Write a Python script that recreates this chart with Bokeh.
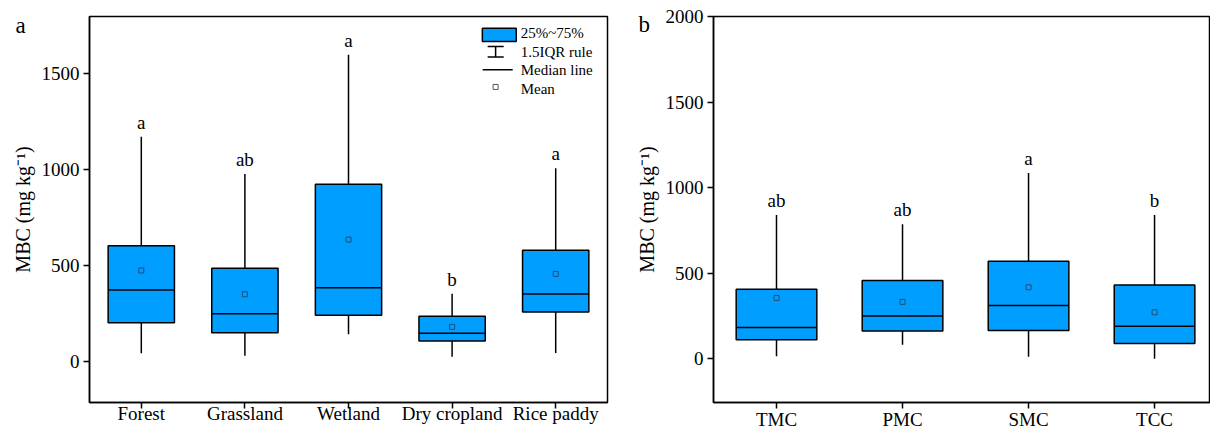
from bokeh.plotting import figure
from bokeh.layouts import row
from bokeh.models import Range1d, FixedTicker
from bokeh.core.properties import value
from bokeh.embed import file_html
from bokeh.resources import INLINE

# ---------------- data ----------------
land_types = ["Forest", "Grassland", "Wetland", "Dry cropland", "Rice paddy"]
a_low = [42, 30, 142, 24, 44]
a_q1 = [201, 150, 241, 106, 258]
a_median = [372, 249, 384, 147, 351]
a_q3 = [602, 486, 923, 235, 579]
a_high = [1171, 977, 1598, 353, 1006]
a_mean = [474, 350, 635, 180, 456]
a_letters = ["a", "ab", "a", "b", "a"]
a_yticks = [0, 500, 1000, 1500]

mc_types = ["TMC", "PMC", "SMC", "TCC"]
b_low = [15, 82, 13, 0]
b_q1 = [111, 163, 165, 89]
b_median = [183, 251, 311, 190]
b_q3 = [406, 457, 570, 432]
b_high = [841, 786, 1086, 841]
b_mean = [356, 333, 418, 272]
b_letters = ["ab", "ab", "a", "b"]
b_yticks = [0, 500, 1000, 1500, 2000]

legend_labels = ["25%~75%", "1.5IQR rule", "Median line", "Mean"]

# ---------------- style ----------------
FONT = "Liberation Serif"
BLUE = "#009FFF"
BW = 0.64
YLABEL = "MBC (mg kg\u207b\u00b9)"


def panel(cats, low, q1, med, q3, high, mean, letters, yticks, yr, xr,
          width, height, mb_left, mb_right, mb_top, mb_bottom, xstandoff,
          tag, tag_offset, tag_standoff):
    xs = list(range(1, len(cats) + 1))
    p = figure(width=width, height=height, output_backend="svg", toolbar_location=None,
               x_range=Range1d(*xr), y_range=Range1d(*yr),
               min_border_left=mb_left, min_border_right=mb_right,
               min_border_top=mb_top, min_border_bottom=mb_bottom,
               title=tag)
    # panel tag as title (titles are not clipped to the frame)
    p.title.text_font = FONT
    p.title.text_font_style = "normal"
    p.title.text_font_size = "23px"
    p.title.text_color = "black"
    p.title.align = "left"
    p.title.offset = tag_offset
    p.title.standoff = tag_standoff

    p.xgrid.visible = False
    p.ygrid.visible = False
    p.outline_line_color = "black"
    p.outline_line_width = 1.5

    p.segment(x0=xs, y0=q3, x1=xs, y1=high, line_color="black", line_width=1.5)
    p.segment(x0=xs, y0=low, x1=xs, y1=q1, line_color="black", line_width=1.5)
    p.vbar(x=xs, width=BW, bottom=q1, top=q3, fill_color=BLUE, line_color="black", line_width=1.5)
    p.segment(x0=[x - BW / 2 for x in xs], y0=med, x1=[x + BW / 2 for x in xs], y1=med,
              line_color="black", line_width=1.5)
    p.scatter(x=xs, y=mean, marker="square", size=5, fill_alpha=0,
              line_color="#1f4e79", line_width=1)
    p.text(x=xs, y=high, text=letters, text_align="center", text_baseline="bottom",
           y_offset=-4, text_font=value(FONT), text_font_size="19px", text_color="black")

    for ax in (p.xaxis[0], p.yaxis[0]):
        ax.axis_line_width = 1.5
        ax.major_tick_line_width = 1.5
        ax.major_tick_in = 0
        ax.major_tick_out = 6
        ax.minor_tick_line_color = None
        ax.major_label_text_font = FONT
        ax.major_label_text_font_size = "19px"
        ax.major_label_text_color = "black"
        ax.axis_label_text_font = FONT
        ax.axis_label_text_font_style = "normal"
        ax.axis_label_text_font_size = "20px"
        ax.axis_label_text_color = "black"

    p.xaxis.ticker = FixedTicker(ticks=xs)
    p.xaxis.major_label_overrides = {x: c for x, c in zip(xs, cats)}
    p.xaxis.major_label_standoff = xstandoff
    p.yaxis.ticker = FixedTicker(ticks=yticks)
    p.yaxis.axis_label = YLABEL
    p.yaxis.major_label_standoff = 4
    return p


pa = panel(land_types, a_low, a_q1, a_median, a_q3, a_high, a_mean, a_letters, a_yticks,
           (-214, 1797), (0.5, 5.5), 620, 432, 89, 13, 14, 20, -6,
           "a", -74, -42)

# legend (panel a)
pa.quad(left=[4.292], right=[4.619], top=[1736], bottom=[1667], fill_color=BLUE,
        line_color="black", line_width=1.5)
pa.segment(x0=[4.42, 4.343, 4.343], y0=[1641, 1641, 1586], x1=[4.42, 4.498, 4.498],
           y1=[1586, 1641, 1586], line_color="black", line_width=1.5)
pa.segment(x0=[4.295], y0=[1520], x1=[4.585], y1=[1520], line_color="black", line_width=1.5)
pa.scatter(x=[4.42], y=[1430], marker="square", size=5, fill_alpha=0, line_color="#555555",
           line_width=1)
pa.text(x=[4.662] * 4, y=[1713, 1614, 1518, 1420], text=legend_labels, text_align="left",
        text_baseline="middle", text_font=value(FONT), text_font_size="15px", text_color="black")

pb = panel(mc_types, b_low, b_q1, b_median, b_q3, b_high, b_mean, b_letters, b_yticks,
           (-255, 2000), (0.5, 4.444), 590, 432, 93, 0, 16, 20, 0,
           "b", -75, -40)

layout = row(pa, pb)
open("out.html", "w").write(file_html(layout, INLINE))
